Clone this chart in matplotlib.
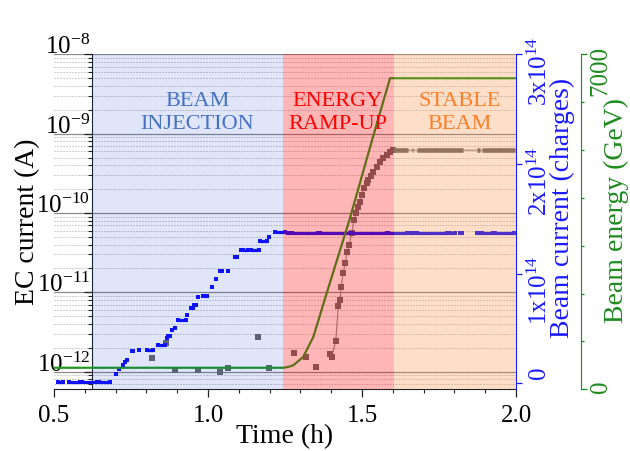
import matplotlib
matplotlib.use('Agg')
import matplotlib.pyplot as plt
import matplotlib.transforms as mtransforms
from matplotlib.ticker import FixedLocator, MultipleLocator, LogLocator, NullFormatter, FormatStrFormatter, LogFormatterSciNotation

plt.rcParams['font.family'] = ['Liberation Serif', 'DejaVu Serif']
plt.rcParams['mathtext.fontset'] = 'custom'
plt.rcParams['mathtext.rm'] = 'Liberation Serif'
plt.rcParams['mathtext.it'] = 'Liberation Serif:italic'
plt.rcParams['mathtext.bf'] = 'Liberation Serif:bold'

# ---------------- data ----------------
# phases (h)
region_edges = [0.624, 1.243, 1.605, 2.0]
region_names = ['BEAM\nINJECTION', 'ENERGY\nRAMP-UP', 'STABLE\nBEAM']

# beam current (charges), as runs: start time, end time, value (in units of 1e14)
bc_start = [0.514, 0.548, 0.590, 0.645, 0.701, 0.710, 0.723, 0.731, 0.738, 0.752,
            0.777, 0.801, 0.838, 0.866, 0.870, 0.882, 0.894, 0.904, 0.931, 0.946,
            0.956, 0.969, 0.985, 1.014, 1.027, 1.040, 1.064, 1.087, 1.106, 1.115,
            1.140, 1.169, 1.199, 1.218,
            1.260, 1.272, 1.364, 1.467, 1.584, 1.656, 1.678, 1.786, 1.818, 1.872,
            1.889, 1.932]
bc_end = [0.530, 0.585, 0.640, 0.682, 0.701, 0.710, 0.723, 0.731, 0.738, 0.756,
          0.777, 0.822, 0.860, 0.866, 0.876, 0.882, 0.894, 0.928, 0.931, 0.950,
          0.960, 0.969, 0.998, 1.014, 1.027, 1.045, 1.064, 1.093, 1.106, 1.130,
          1.166, 1.191, 1.199, 1.250,
          1.266, 1.357, 1.461, 1.580, 1.645, 1.666, 1.775, 1.802, 1.825, 1.883,
          1.925, 1.995]
bc_value = [0.01, 0.01, 0.01, 0.01, 0.085, 0.13, 0.17, 0.19, 0.21, 0.29,
            0.30, 0.30, 0.35, 0.41, 0.43, 0.49, 0.50, 0.58, 0.625, 0.69,
            0.71, 0.79, 0.80, 0.88, 0.95, 1.02, 1.02, 1.15, 1.22, 1.22,
            1.22, 1.30, 1.33, 1.38,
            1.373, 1.373, 1.373, 1.373, 1.373, 1.373, 1.373, 1.373, 1.373, 1.373,
            1.373, 1.373]
bc_unit = 1e14

# EC current (A)
ec_inj_t = [0.817, 0.864, 0.893, 0.968, 1.039, 1.064, 1.163, 1.198, 1.279, 1.318, 1.351]
ec_inj_v = [1.5e-12, 2.3e-12, 1.06e-12, 1.06e-12, 1.0e-12, 1.1e-12, 2.7e-12, 1.1e-12,
            1.7e-12, 1.55e-12, 1.13e-12]
ec_ramp_t = [1.396, 1.402, 1.415, 1.423, 1.429, 1.432, 1.439, 1.445, 1.452, 1.458,
             1.467, 1.474, 1.481, 1.486, 1.494, 1.499, 1.506, 1.515, 1.520, 1.528,
             1.537, 1.548, 1.559, 1.569, 1.580, 1.591, 1.602]
ec_ramp_v = [1.67e-12, 1.55e-12, 2.46e-12, 6.7e-12, 8.0e-12, 1.18e-11, 1.74e-11,
             2.32e-11, 3.25e-11, 3.95e-11, 5.55e-11, 8.2e-11, 9.9e-11, 1.2e-10,
             1.39e-10, 1.69e-10, 2.05e-10, 2.37e-10, 2.6e-10, 2.92e-10, 3.32e-10,
             3.84e-10, 4.44e-10, 4.98e-10, 5.38e-10, 5.93e-10, 6.2e-10]
ec_stable_start = [1.604, 1.662, 1.679, 1.873, 1.890]
ec_stable_end = [1.649, 1.666, 1.828, 1.883, 1.998]
ec_stable_value = 6.2e-10

# beam energy (GeV)
en_t = [0.5, 1.245, 1.262, 1.277, 1.309, 1.342, 1.385, 1.459, 1.539, 1.591, 2.0]
en_v = [450, 450, 470, 502, 676, 1094, 2001, 3534, 5348, 6500, 6500]

# ticks
x_major = [0.5, 1.0, 1.5, 2.0]
ec_ticks = [1e-12, 1e-11, 1e-10, 1e-9, 1e-8]
bc_ticks = [0, 1e14, 2e14, 3e14]
bc_ticklabels = ['0', r'1x10$^{14}$', r'2x10$^{14}$', r'3x10$^{14}$']
en_ticks = [0, 7000]
en_minor = [1000, 2000, 3000, 4000, 5000, 6000]

# ---------------- figure ----------------
fig = plt.figure(figsize=(6.3, 4.51), dpi=100)
ax = fig.add_axes([54 / 630, 1 - 389.3 / 451, 462 / 630, 335 / 451])
ax_b = ax.twinx()
ax_e = ax.twinx()
for tw in (ax_b, ax_e):
    tw.tick_params(axis='x', which='both', bottom=False, top=False,
                   labelbottom=False, labeltop=False)

# main axis: EC current
ax.set_xlim(0.5, 2.0)
ax.set_yscale('log')
ax.set_ylim(6.0e-13, 1e-8)
ax.yaxis.set_major_locator(FixedLocator(ec_ticks))
ax.yaxis.set_major_formatter(LogFormatterSciNotation())
ax.yaxis.set_minor_locator(LogLocator(base=10, subs=(2, 3, 4, 5, 6, 7, 8, 9)))
ax.yaxis.set_minor_formatter(NullFormatter())
ax.xaxis.set_major_locator(FixedLocator(x_major))
ax.xaxis.set_minor_locator(MultipleLocator(0.1))
ax.xaxis.set_major_formatter(FormatStrFormatter('%.1f'))
ax.grid(True, which='major', axis='y', color='#8a8a8a', lw=0.9)
ax.grid(True, which='minor', axis='y', color='#bdbdbd', lw=0.6, ls=(0, (2, 1.5)))
ax.set_axisbelow(True)
for s in ['top', 'right']:
    ax.spines[s].set_visible(False)
ax.spines['left'].set_position(('data', region_edges[0]))
ax.spines['left'].set_color('#222222')
ax.spines['bottom'].set_color('#222222')
ax.tick_params(axis='both', which='major', direction='out', length=5.5, width=0.9,
               colors='#222222')
ax.tick_params(axis='both', which='minor', direction='out', length=3, width=0.8,
               colors='#222222')
ax.tick_params(axis='x', labelsize=18, labelcolor='black', pad=6)
ax.tick_params(axis='y', labelsize=18, labelcolor='black', pad=-4)

ax.scatter(ec_inj_t, ec_inj_v, marker='s', s=13, color='#6a6a6a', lw=0, zorder=3)
ax.plot(ec_ramp_t + [ec_stable_start[0], ec_stable_end[-1]],
        ec_ramp_v + [ec_stable_value, ec_stable_value],
        color='#8a8a8a', lw=0.8, zorder=3)
ax.scatter(ec_ramp_t, ec_ramp_v, marker='s', s=13, color='#6a6a6a', lw=0, zorder=3)
ax.hlines([ec_stable_value] * len(ec_stable_start), ec_stable_start, ec_stable_end,
          color='#6a6a6a', lw=3.3, zorder=3)

ax.set_xlabel('Time (h)', fontsize=20)
ax.xaxis.set_label_coords(0.5, -0.14)
ax.xaxis.label.set_va('center')
ax.set_ylabel('EC current (A)', fontsize=20)
ax.yaxis.set_label_coords(-0.058, 0.50)
ax.yaxis.label.set_va('center')

# beam current axis
bc_abs = [v * bc_unit for v in bc_value]
ax_b.set_ylim(-0.0547e14, 3.0e14)
for s in ['top', 'left', 'bottom']:
    ax_b.spines[s].set_visible(False)
ax_b.spines['right'].set_color('#1a1aff')
ax_b.yaxis.set_major_locator(FixedLocator(bc_ticks))
ax_b.set_yticklabels(bc_ticklabels)
ax_b.tick_params(axis='y', direction='out', length=4.3, width=0.9, colors='#1a1aff',
                 labelsize=18, labelrotation=90, pad=4)
ax_b.hlines(bc_abs, bc_start, bc_end, color='#1010ff', lw=2.3, zorder=3)
ax_b.scatter(bc_start + bc_end, bc_abs + bc_abs, marker='s', s=5, color='#1010ff',
             lw=0, zorder=3)
ax_b.set_ylabel('Beam current (charges)', fontsize=20, color='#1a1aff')
ax_b.yaxis.set_label_coords(1.101, 0.54)
ax_b.yaxis.label.set_va('center')

# beam energy axis
ax_e.set_ylim(0, 7000)
for s in ['top', 'left', 'bottom']:
    ax_e.spines[s].set_visible(False)
ax_e.spines['right'].set_position(('axes', 1 + 65 / 462))
ax_e.spines['right'].set_color('#1e8a1e')
ax_e.yaxis.set_major_locator(FixedLocator(en_ticks))
ax_e.yaxis.set_minor_locator(FixedLocator(en_minor))
ax_e.yaxis.set_minor_formatter(NullFormatter())
ax_e.tick_params(axis='y', which='major', direction='out', length=4.3, width=0.9,
                 colors='#1e8a1e', labelsize=18, labelrotation=90, pad=2)
ax_e.tick_params(axis='y', which='minor', direction='out', length=2.3, width=0.9,
                 colors='#1e8a1e')
ax_e.plot(en_t, en_v, color='#229922', lw=1.6, zorder=3)
ax_e.set_ylabel('Beam energy (GeV)', fontsize=20, color='#1e8a1e')
ax_e.yaxis.set_label_coords(1.218, 0.535)
ax_e.yaxis.label.set_va('center')

# phase overlays (drawn over all data)
region_colors = ['#0031d6', '#ff0000', '#f8893b']
region_alpha = [0.12, 0.286, 0.28]
text_colors = ['#4472c4', '#ff0000', '#ff7f27']
text_x = [0.966, 1.421, 1.818]
blend = mtransforms.blended_transform_factory(ax_e.transData, ax_e.transAxes)
for i in range(3):
    ax_e.axvspan(region_edges[i], region_edges[i + 1], color=region_colors[i],
                 alpha=region_alpha[i], lw=0, zorder=4)
    ax_e.text(text_x[i], 0.824, region_names[i], transform=blend, ha='center',
              va='center', fontsize=16, color=text_colors[i], zorder=6,
              linespacing=1.3)

# tick label alignment tweaks
for t in ax.get_yticklabels():
    t.set_va('baseline')
shift = mtransforms.ScaledTranslation(0, 8 / 100, fig.dpi_scale_trans)
for tk in ax_b.yaxis.get_major_ticks():
    tk.label2.set_transform(tk.label2.get_transform() + shift)

fig.savefig('out.png', dpi=100)
